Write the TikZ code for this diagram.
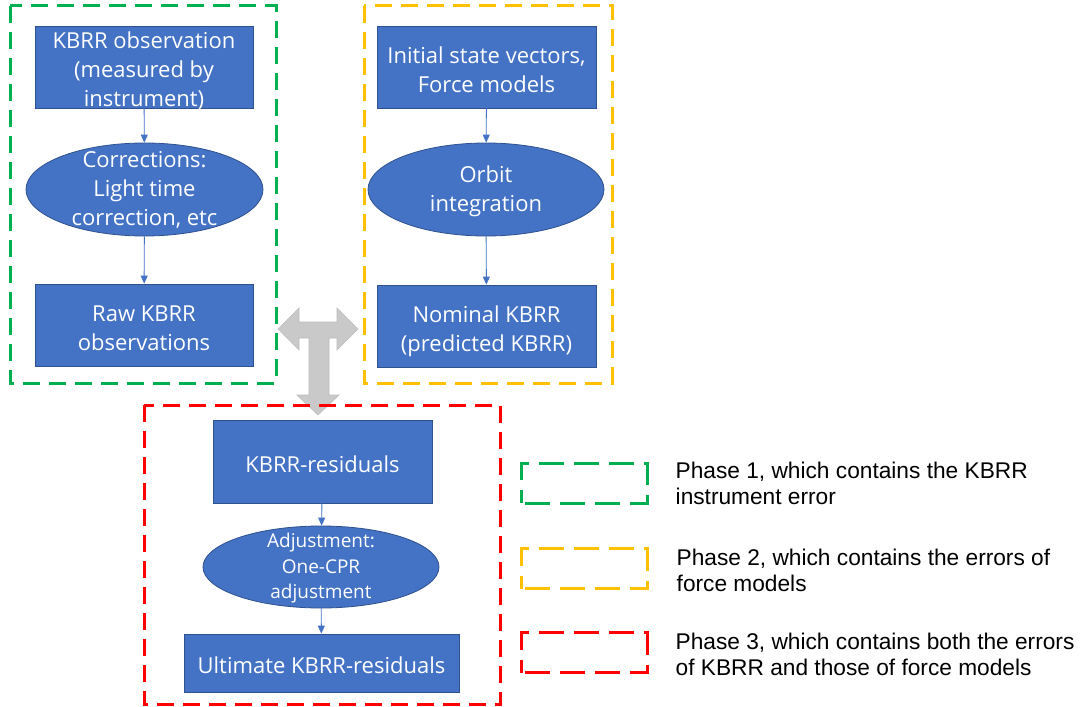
\documentclass[tikz,border=0pt]{standalone}
\usepackage{fontspec}
\setmainfont{Liberation Sans}
\newfontfamily\boxfont{Open Sans}
\usetikzlibrary{shapes.geometric,arrows.meta}
\definecolor{boxblue}{HTML}{4472C4}
\definecolor{boxedge}{HTML}{2F528F}
\definecolor{phgreen}{HTML}{00B050}
\definecolor{phyellow}{HTML}{FFC000}
\definecolor{phred}{HTML}{FF0000}
\definecolor{tgray}{HTML}{C9C9C9}
\definecolor{tedge}{HTML}{BDBDBD}
\newcommand\ztxt[1]{\makebox[0pt]{\smash{\raisebox{-0.3em}{\begin{tabular}{@{}c@{}}#1\end{tabular}}}}}
\newcommand\lowtxt[1]{\makebox[0pt]{\smash{\raisebox{-0.45em}{\begin{tabular}{@{}c@{}}#1\end{tabular}}}}}
\tikzset{
  blockbox/.style={rectangle, fill=boxblue, draw=boxedge, line width=0.8pt, text=white,
    font=\boxfont\fontsize{22}{29}\selectfont, inner sep=0pt},
  ovalbox/.style={ellipse, fill=boxblue, draw=boxedge, line width=0.8pt, text=white,
    font=\boxfont\fontsize{22}{29}\selectfont, inner sep=0pt},
  conn/.style={draw=boxblue, line width=0.9pt, -{Triangle[length=8pt,width=7pt]}},
  phaseframe/.style={draw=#1, line width=3pt, dash pattern=on 17pt off 9pt},
  legendframe/.style={draw=#1, line width=3pt, dash pattern=on 25pt off 10pt, dash phase=-4pt,
    rectangle, minimum width=126pt, minimum height=40pt, inner sep=0pt},
  legendtext/.style={anchor=west, align=left, inner sep=0pt, text=black,
    font=\fontsize{22.7}{25.3}\selectfont}
}
\begin{document}
\begin{tikzpicture}[x=1pt,y=-1pt]
\useasboundingbox (0,0) rectangle (1083,706);
\fill[white] (0,0) rectangle (1083,706);

% phase frames
\draw[phaseframe=phgreen] (10,6) rectangle (276,383);
\draw[phaseframe=phyellow] (364,6) rectangle (612,383);

% T-shaped grey arrow
\filldraw[fill=tgray, draw=tedge, line width=0.6pt]
  (278,329) -- (299,308) -- (299,322) -- (337,322) -- (337,308) -- (358,329)
  -- (337,350) -- (337,338) -- (329,338) -- (329,395) -- (339,395) -- (318,415)
  -- (297,395) -- (309,395) -- (309,338) -- (299,338) -- (299,350) -- cycle;

\draw[phaseframe=phred] (144,405) rectangle (500,704);

% Phase 1
\node[blockbox, minimum width=218pt, minimum height=82pt] (obs) at (144,67)
  {\lowtxt{KBRR observation\\(measured by\\instrument)}};
\node[ovalbox, minimum width=237pt, minimum height=93pt] (corr) at (144.5,189.5)
  {\ztxt{Corrections:\\Light time\\correction, etc}};
\node[blockbox, minimum width=218pt, minimum height=82pt] (raw) at (144,325)
  {\lowtxt{Raw KBRR\\observations}};

% Phase 2
\node[blockbox, minimum width=219pt, minimum height=82pt] (init) at (486.5,67)
  {\lowtxt{Initial state vectors,\\Force models}};
\node[ovalbox, minimum width=236pt, minimum height=93pt] (orbit) at (486,189.5)
  {\ztxt{Orbit\\integration}};
\node[blockbox, minimum width=219pt, minimum height=82pt] (nom) at (486.5,326)
  {\lowtxt{Nominal KBRR\\(predicted KBRR)}};

% Phase 3
\node[blockbox, minimum width=219pt, minimum height=83pt] (res) at (322.5,461.5)
  {\lowtxt{KBRR-residuals}};
\node[ovalbox, minimum width=236pt, minimum height=82pt,
  font=\boxfont\fontsize{19}{25.5}\selectfont] (adj) at (321,567)
  {\ztxt{Adjustment:\\One-CPR\\adjustment}};
\node[blockbox, minimum width=275pt, minimum height=58pt] (ult) at (321.5,663)
  {\lowtxt{Ultimate KBRR-residuals}};

% connectors
\draw[conn] (obs) -- (corr);
\draw[conn] (corr) -- (raw);
\draw[conn] (init) -- (orbit);
\draw[conn] (orbit) -- (nom);
\draw[conn] (res) -- (adj);
\draw[conn] (adj) -- (ult);

% legend
\node[legendframe=phgreen] (lg1) at (584,483) {};
\node[legendframe=phyellow] (lg2) at (584,568.5) {};
\node[legendframe=phred] (lg3) at (584,652.5) {};
\node[legendtext] (lt1) at (675.5,483.5) {Phase 1, which contains the KBRR\\instrument error};
\node[legendtext] (lt2) at (676.5,570.5) {Phase 2, which contains the errors of\\force models};
\node[legendtext] (lt3) at (675.5,654.5) {Phase 3, which contains both the errors\\of KBRR and those of force models};
\end{tikzpicture}
\end{document}
